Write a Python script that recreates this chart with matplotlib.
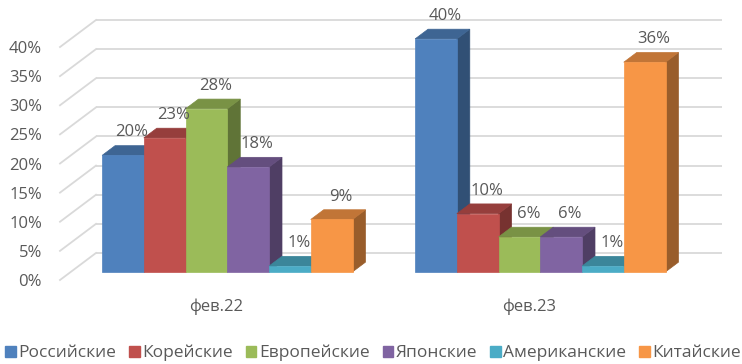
import matplotlib
matplotlib.use("Agg")
import matplotlib.pyplot as plt
from matplotlib.patches import Polygon, Patch
import numpy as np

# ---- data ----
categories = ["фев.22", "фев.23"]
series_names = ["Российские", "Корейские", "Европейские", "Японские", "Американские", "Китайские"]
values = {
    "Российские":   [20, 40],
    "Корейские":    [23, 10],
    "Европейские":  [28, 6],
    "Японские":     [18, 6],
    "Американские": [1, 1],
    "Китайские":    [9, 36],
}
yticks = [0, 5, 10, 15, 20, 25, 30, 35, 40]
ytick_labels = [f"{v}%" for v in yticks]

# ---- style ----
colors = ["#4F81BD", "#C0504D", "#9BBB59", "#8064A2", "#4BACC6", "#F79646"]
text_color = "#595959"
grid_color = "#D9D9D9"
plt.rcParams["font.family"] = ["Open Sans", "DejaVu Sans"]
fs = 12


def shade(hex_color, k):
    rgb = np.array(matplotlib.colors.to_rgb(hex_color))
    return tuple(rgb * k)


fig = plt.figure(figsize=(7.42, 3.64), dpi=100)
fig.patch.set_facecolor("white")

# oblique projection: depth vector of the whole floor, in data units
ymax = max(yticks)
depth_dx = 0.115
depth_dy = 4.64
ax = fig.add_axes([60 / 742, 84 / 364, 662 / 742, 260 / 364])
ax.set_xlim(-0.5, len(categories) - 0.5 + depth_dx)
ax.set_ylim(0, ymax + depth_dy)
for s in ax.spines.values():
    s.set_visible(False)

# walls: back gridlines and side diagonals
x0 = -0.5
x1 = len(categories) - 0.5
for v in yticks:
    ax.plot([x0 + depth_dx, x1 + depth_dx], [v + depth_dy, v + depth_dy],
            color=grid_color, lw=1.3, zorder=0, clip_on=False, solid_capstyle="butt")
    ax.plot([x0, x0 + depth_dx], [v, v + depth_dy],
            color=grid_color, lw=1.3, zorder=0, clip_on=False)

# bars: clustered, gap width 150 %
n = len(series_names)
gap = 1.5
bw = 1.0 / (n + gap)
f_front, f_back = 0.30, 0.66
fx, fy = f_front * depth_dx, f_front * depth_dy
bx, by = (f_back - f_front) * depth_dx, (f_back - f_front) * depth_dy

z = 2
for ci in range(len(categories)):
    for si, name in enumerate(series_names):
        v = values[name][ci]
        left = ci - 0.5 + gap * bw / 2 + si * bw + fx
        right = left + bw
        base = fy
        top = v + fy
        c = colors[si]
        front = [(left, base), (right, base), (right, top), (left, top)]
        topf = [(left, top), (right, top), (right + bx, top + by), (left + bx, top + by)]
        side = [(right, base), (right + bx, base + by), (right + bx, top + by), (right, top)]
        for pts, col in ((side, shade(c, 0.62)), (topf, shade(c, 0.78)), (front, c)):
            ax.add_patch(Polygon(pts, closed=True, facecolor=col, edgecolor=col,
                                 lw=0.5, zorder=z, clip_on=False))
        z += 1
        ax.annotate(f"{v}%", xy=(left + bw / 2 + 0.7 * bx, top + by / 2),
                    xytext=(0, 13), textcoords="offset points",
                    ha="center", va="center", fontsize=fs, color=text_color,
                    zorder=100, annotation_clip=False)

# axes ticks
ax.set_yticks(yticks)
ax.set_yticklabels(ytick_labels)
ax.set_xticks(range(len(categories)))
ax.set_xticklabels(categories)
ax.tick_params(axis="y", length=0, pad=13, labelsize=fs, labelcolor=text_color)
ax.tick_params(axis="x", length=0, pad=13, labelsize=fs, labelcolor=text_color)

# legend
handles = [Patch(facecolor=c, edgecolor=c) for c in colors]
fig.legend(handles, series_names, loc="center", bbox_to_anchor=(0.503, 11 / 364),
           ncol=n, frameon=False, fontsize=12.5, labelcolor=text_color,
           handlelength=0.6, handleheight=0.6, handletextpad=0.15,
           columnspacing=0.75, borderpad=0, borderaxespad=0)

fig.savefig("out.png", dpi=100, facecolor="white")
